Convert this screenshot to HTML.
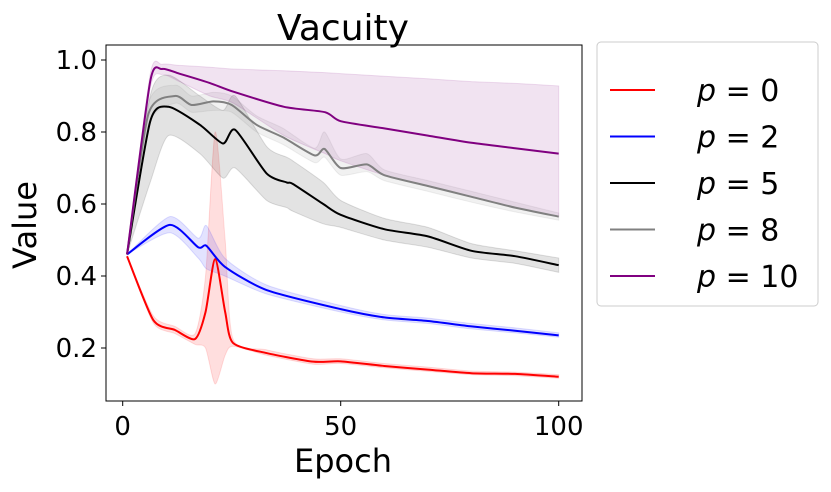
<!DOCTYPE html>
<html><head><meta charset="utf-8"><style>
body{margin:0;background:#fff;}
svg text{font-family:"DejaVu Sans","Liberation Sans",sans-serif;fill:#000;}
</style></head><body>
<svg id="chart" width="831" height="487" viewBox="0 0 831 487">
<g id="bands"></g><g id="lines"></g><g id="axes"></g>
</svg>
<script>
const seriesNames=["p0","p2","p5","p8","p10"];
const colors=["#ff0000","#0000ff","#000000","#808080","#800080"];
const p0X=[1,7,12,16.6,19,21.2,23.5,25.3,33,43.7,50,60,70,80,90,100];
const p0Y=[0.455,0.278,0.25,0.225,0.3,0.447,0.3,0.214,0.186,0.162,0.163,0.15,0.14,0.13,0.128,0.12];
const p0Lo=[0.455,0.27,0.24,0.21,0.2,0.10,0.18,0.205,0.18,0.155,0.157,0.145,0.135,0.126,0.123,0.116];
const p0Hi=[0.455,0.29,0.26,0.24,0.4,0.80,0.5,0.225,0.195,0.17,0.17,0.157,0.147,0.136,0.133,0.126];
const p2X=[1,10.8,17.3,19.2,23.4,33,50,60,70,80,90,100];
const p2Y=[0.46,0.542,0.48,0.484,0.426,0.361,0.308,0.285,0.275,0.26,0.248,0.235];
const p2Lo=[0.46,0.52,0.45,0.42,0.40,0.35,0.30,0.278,0.268,0.253,0.242,0.23];
const p2Hi=[0.46,0.565,0.505,0.54,0.45,0.375,0.318,0.293,0.283,0.268,0.256,0.242];
const p5X=[1,6.3,10.5,17.7,23,25.8,33,37.6,39,46,50,60,70,80,90,100];
const p5Y=[0.46,0.829,0.87,0.82,0.768,0.806,0.685,0.66,0.656,0.60,0.57,0.53,0.51,0.47,0.455,0.43];
const p5Lo=[0.46,0.66,0.79,0.74,0.672,0.70,0.61,0.59,0.58,0.545,0.535,0.5,0.48,0.45,0.435,0.41];
const p5Hi=[0.46,0.90,0.958,0.9,0.86,0.90,0.76,0.73,0.72,0.66,0.61,0.56,0.535,0.49,0.47,0.45];
const p8X=[1,5.9,12,15.8,20.8,25,30.7,36.8,44,46.3,50,56,60,70,80,90,100];
const p8Y=[0.46,0.85,0.90,0.875,0.885,0.875,0.82,0.785,0.735,0.753,0.70,0.71,0.68,0.65,0.62,0.59,0.565];
const p8Lo=[0.46,0.82,0.88,0.855,0.86,0.855,0.80,0.765,0.715,0.73,0.68,0.69,0.665,0.635,0.605,0.578,0.555];
const p8Hi=[0.46,0.88,0.93,0.9,0.91,0.9,0.845,0.81,0.755,0.8,0.725,0.74,0.695,0.665,0.635,0.605,0.575];
const p10X=[1,6.3,9,13,20,25.4,37,46.4,50,60,70,80,90,100];
const p10Y=[0.46,0.94,0.975,0.962,0.936,0.912,0.87,0.855,0.83,0.81,0.79,0.77,0.755,0.74];
const p10Lo=[0.46,0.92,0.96,0.94,0.90,0.88,0.79,0.74,0.72,0.68,0.65,0.62,0.59,0.565];
const p10Hi=[0.46,0.96,0.988,0.985,0.98,0.975,0.97,0.965,0.962,0.955,0.948,0.94,0.935,0.928];
const xTicks=[0,50,100];
const yTicks=[0.2,0.4,0.6,0.8,1.0];
const legendLabels=["0","2","5","8","10"];
const allX=[p0X,p2X,p5X,p8X,p10X],allY=[p0Y,p2Y,p5Y,p8Y,p10Y],allLo=[p0Lo,p2Lo,p5Lo,p8Lo,p10Lo],allHi=[p0Hi,p2Hi,p5Hi,p8Hi,p10Hi];
const L=106,R=582,T=45,B=401;
const sx=v=>122.7+v*4.36;
const sy=v=>60+(1-v)*360;
const NS="http://www.w3.org/2000/svg";
function mk(t,a,p){const e=document.createElementNS(NS,t);for(const k in a)e.setAttribute(k,a[k]);p.appendChild(e);return e;}
function smooth(pts){const k=0.12;let d="M"+pts[0][0]+","+pts[0][1];for(let i=0;i<pts.length-1;i++){const p0=pts[Math.max(i-1,0)],p1=pts[i],p2=pts[i+1],p3=pts[Math.min(i+2,pts.length-1)];
const c1=[p1[0]+(p2[0]-p0[0])*k,p1[1]+(p2[1]-p0[1])*k],c2=[p2[0]-(p3[0]-p1[0])*k,p2[1]-(p3[1]-p1[1])*k];d+=" C"+c1+" "+c2+" "+p2;}return d;}
const bands=document.getElementById('bands'),lines=document.getElementById('lines'),axes=document.getElementById('axes');
for(let s=0;s<5;s++){
 const xs=allX[s];
 const up=xs.map((x,i)=>[sx(x),sy(allHi[s][i])]),lo=xs.map((x,i)=>[sx(x),sy(allLo[s][i])]).reverse();
 const d=smooth(up)+" L"+lo[0]+" "+smooth(lo).slice(1)+" Z";
 const b=mk('path',{d:d,fill:colors[s],'fill-opacity':s==0?0.13:0.11,stroke:colors[s],'stroke-opacity':0.12},bands);
 
 
 const l=mk('path',{d:smooth(xs.map((x,i)=>[sx(x),sy(allY[s][i])])),fill:'none',stroke:colors[s],'stroke-width':2},lines);
 
 
}
const fr=mk('rect',{x:L,y:T,width:R-L,height:B-T,fill:'none',stroke:'#000','stroke-width':1},axes);


xTicks.forEach(v=>{mk('line',{x1:sx(v),x2:sx(v),y1:B,y2:B+5,stroke:'#000'},axes);
 const t=mk('text',{x:sx(v),y:B+34,'font-size':26,'text-anchor':'middle'},axes);t.textContent=v;
 
 });
yTicks.forEach(v=>{mk('line',{x1:L-5,x2:L,y1:sy(v),y2:sy(v),stroke:'#000'},axes);
 const t=mk('text',{x:L-9,y:sy(v)+9,'font-size':26,'text-anchor':'end'},axes);t.textContent=v.toFixed(1);
 
 });
let t=mk('text',{x:343,y:40,'font-size':36,'text-anchor':'middle'},axes);t.textContent="Vacuity";


t=mk('text',{x:343,y:472,'font-size':32,'text-anchor':'middle'},axes);t.textContent="Epoch";


t=mk('text',{x:0,y:0,'font-size':32,'text-anchor':'middle',transform:'translate(36,225) rotate(-90)'},axes);t.textContent="Value";


const lg=mk('rect',{x:597,y:42,width:221,height:264,rx:4,fill:'#fff',stroke:'#ccc'},axes);


legendLabels.forEach((lab,i)=>{const y=90+i*46.5;
 const ln=mk('line',{x1:610,x2:655,y1:y,y2:y,stroke:colors[i],'stroke-width':2},axes);
 
 
 const tx=mk('text',{x:697,y:y+11,'font-size':30},axes);
 tx.innerHTML='<tspan font-style="italic">p</tspan> = '+lab;
 
 });
</script>
</body></html>
